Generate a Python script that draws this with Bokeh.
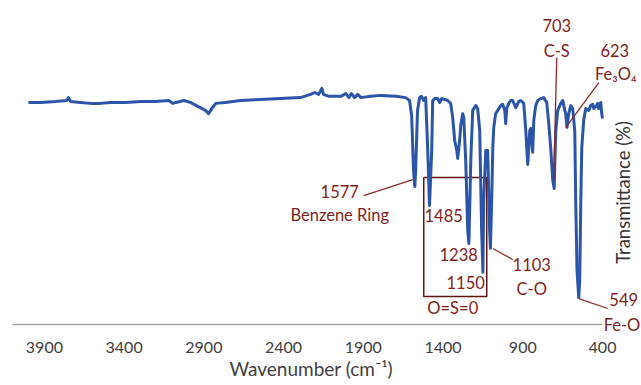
from bokeh.plotting import figure
from bokeh.models import Label, Arrow, FixedTicker, Range1d
from bokeh.embed import file_html
from bokeh.resources import INLINE

# ---- data ----
wavenumber = [4000, 3925, 3830, 3760, 3750, 3735, 3675, 3610, 3550, 3485,
              3390, 3295, 3205, 3120, 3095, 3075, 3025, 2985, 2935, 2890,
              2870, 2850, 2825, 2765, 2670, 2545, 2420, 2295, 2230, 2205,
              2180, 2160, 2150, 2115, 2040, 2010, 1990, 1975, 1955, 1935,
              1915, 1855, 1790, 1695, 1635, 1610, 1597, 1585, 1577, 1572,
              1560, 1547, 1535, 1521, 1509, 1496, 1485, 1471, 1465, 1452,
              1434, 1421, 1408, 1390, 1371, 1352, 1339, 1327, 1314, 1308,
              1296, 1289, 1277, 1270, 1258, 1245, 1238, 1226, 1214, 1195,
              1183, 1170, 1158, 1150, 1145, 1132, 1120, 1108, 1103, 1095,
              1088, 1082, 1070, 1057, 1038, 1026, 1013, 1007, 1001, 988,
              976, 963, 944, 925, 913, 894, 881, 869, 856, 850,
              838, 831, 819, 806, 787, 769, 750, 737, 725, 712,
              703, 699, 693, 681, 662, 649, 643, 631, 623, 612,
              599, 587, 574, 568, 560, 549, 543, 536, 530, 518,
              505, 486, 474, 461, 455, 436, 430, 424, 411, 405, 400]
transmittance = [69.4, 69.4, 69.7, 70.0, 70.9, 69.7, 69.4, 69.1, 69.1, 69.4,
                 69.4, 69.7, 69.7, 70.0, 69.1, 69.4, 70.0, 69.4, 68.1, 66.9,
                 65.9, 67.5, 69.1, 69.4, 70.0, 70.3, 70.6, 70.9, 71.9, 72.5,
                 71.9, 73.8, 71.9, 71.3, 71.3, 72.2, 70.9, 72.2, 70.9, 71.9,
                 70.9, 71.3, 71.6, 71.3, 70.9, 70.0, 65.3, 48.1, 43.1, 48.1,
                 66.9, 70.9, 71.3, 70.0, 70.9, 54.4, 37.2, 54.4, 70.0, 70.6,
                 70.6, 69.4, 70.6, 70.3, 70.0, 69.1, 64.4, 57.5, 54.4, 51.9,
                 57.5, 62.2, 65.9, 64.7, 51.3, 29.4, 25.3, 51.3, 66.9, 68.4,
                 67.5, 60.6, 29.4, 16.3, 38.8, 54.4, 54.4, 29.4, 23.8, 38.8,
                 55.3, 61.6, 65.9, 66.9, 68.4, 68.8, 66.9, 62.8, 67.5, 69.1,
                 70.0, 70.0, 67.8, 69.7, 70.0, 69.1, 60.6, 50.0, 60.6, 61.3,
                 53.8, 63.8, 68.4, 70.0, 70.6, 70.9, 69.4, 62.8, 55.3, 45.0,
                 42.5, 50.3, 60.6, 66.9, 69.1, 70.0, 68.4, 65.9, 61.6, 65.9,
                 68.4, 67.5, 60.6, 38.8, 16.9, 8.4, 13.8, 38.8, 55.3, 63.8,
                 67.5, 66.9, 68.4, 68.8, 67.5, 68.4, 69.1, 67.5, 69.4, 65.9, 64.4]
tick_values = [3900, 3400, 2900, 2400, 1900, 1400, 900, 400]
axis_start, axis_end = 4100, 400

RED = "#7f1d1d"
FONT = "Lato"

p = figure(width=641, height=385, x_range=Range1d(4175.3, 155.5), y_range=Range1d(-3.75, 101.25),
           output_backend="svg", toolbar_location=None,
           min_border_left=0, min_border_right=0, min_border_top=0, min_border_bottom=49)
p.yaxis.visible = False
p.grid.visible = False
p.outline_line_color = None
p.background_fill_color = "white"
p.border_fill_color = "white"

ax = p.xaxis[0]
ax.ticker = FixedTicker(ticks=tick_values)
ax.axis_line_color = None
ax.major_tick_line_color = None
ax.minor_tick_line_color = None
ax.major_tick_out = 0
ax.major_tick_in = 0
ax.major_label_standoff = 5
ax.major_label_text_font = FONT
ax.major_label_text_font_size = "16px"
ax.major_label_text_color = "#404040"
ax.axis_label = "Wavenumber (cm\u207b\u00b9)" + "\u00a0" * 4
ax.axis_label_standoff = 1
ax.axis_label_text_font = FONT
ax.axis_label_text_font_style = "normal"
ax.axis_label_text_font_size = "19px"
ax.axis_label_text_color = "#404040"

# visible x-axis line (spans the axis range only)
p.segment(x0=[axis_start], y0=[0], x1=[axis_end], y1=[0], line_color="#a6a6a6", line_width=1.5)

# box around the sulfonyl peaks
p.quad(left=[1521], right=[1126], bottom=[8.75], top=[45.9],
       fill_color=None, line_color="#5e1414", line_width=1.5)

p.line(wavenumber, transmittance, line_color="#2b55a8", line_width=3, line_join="round")

# leader lines
for xs, ys, xe, ye in [(1898, 40.3, 1590, 45.3),
                       (1088, 23.75, 963, 20.3),
                       (549, 8.1, 367, 5.0),
                       (687, 83.4, 706, 45.0),
                       (423, 75.6, 630, 61.6)]:
    p.add_layout(Arrow(x_start=xs, y_start=ys, x_end=xe, y_end=ye, end=None, start=None,
                       line_color="#8b2a2a", line_width=1.3))

labels = [("1577", 2048, 41.6), ("Benzene Ring", 2048, 34.1),
          ("1485", 1396, 34.1), ("1238", 1302, 21.9), ("1150", 1258, 13.1),
          ("O=S=0", 1339, 5.3), ("1103", 844, 18.75), ("C-O", 844, 11.25),
          ("549", 267, 7.8), ("Fe-O", 278, 0.0), ("703", 687, 93.4), ("C-S", 687, 85.6),
          ("623", 323, 85.6), ("Fe\u2083O\u2084", 317, 78.4)]
for t, x, y in labels:
    p.add_layout(Label(x=x, y=y, text=t, text_align="center", text_baseline="middle",
                       text_color=RED, text_font=FONT, text_font_size="16.5px"))

p.add_layout(Label(x=273, y=41.25, text="Transmittance (%)", angle=90, angle_units="deg",
                   text_align="center", text_baseline="middle", text_color="#333333",
                   text_font=FONT, text_font_size="18.5px"))

open("out.html", "w").write(file_html(p, INLINE))
